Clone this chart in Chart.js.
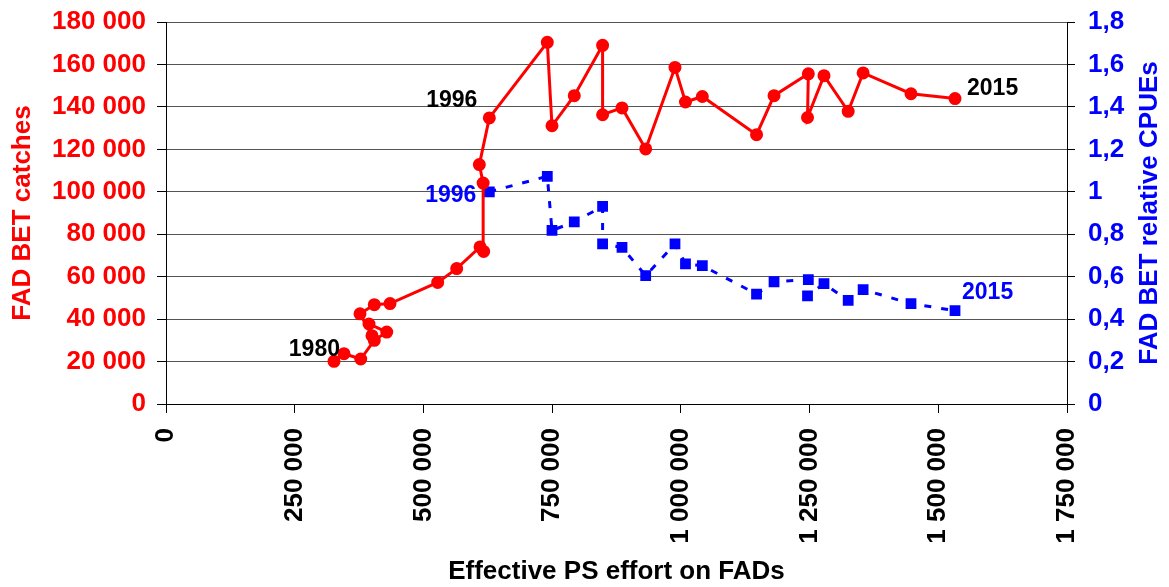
<!DOCTYPE html>
<html>
<head>
<meta charset="utf-8">
<script src="https://cdn.jsdelivr.net/npm/chart.js@4/dist/chart.umd.min.js"></script>
<style>
  html, body { margin: 0; padding: 0; background: #fff; }
  #wrap { width: 1169px; height: 587px; }
</style>
</head>
<body>
<div id="wrap"><canvas id="chart"></canvas></div>
<script>
// effort (x) and FAD catches, 1980-2015
const years = [1980, 1981, 1982, 1983, 1984, 1985, 1986, 1987, 1988, 1989, 1990, 1991,
    1992, 1993, 1994, 1995, 1996, 1997, 1998, 1999, 2000, 2001, 2002, 2003,
    2004, 2005, 2006, 2007, 2008, 2009, 2010, 2011, 2012, 2013, 2014, 2015];
const effort = [326300, 345700, 378200, 404600, 428700, 394300, 400100, 376800, 404600, 435100,
    527700, 564600, 610000, 617000, 616000, 608600, 628000, 740600, 749700, 793000,
    848000, 848000, 885700, 931700, 988600, 1009000, 1041700, 1147000, 1181000, 1247600,
    1246000, 1278000, 1325000, 1354000, 1447000, 1532500];
const catches = [20100, 23700, 21200, 30000, 33900, 37700, 32200, 42500, 46800, 47300,
    57300, 63800, 74000, 71900, 104100, 112800, 134800, 170400, 131100, 145300,
    169000, 136300, 139500, 120200, 158600, 142300, 144900, 126900, 145300, 155600,
    135000, 154700, 137900, 156000, 146200, 143900];
// relative CPUE (1996 = 1), 1996-2015
const cpueYears = [1996, 1997, 1998, 1999, 2000, 2001, 2002, 2003, 2004, 2005,
    2006, 2007, 2008, 2009, 2010, 2011, 2012, 2013, 2014, 2015];
const cpue = [1.0, 1.073, 0.818, 0.858, 0.931, 0.754, 0.738, 0.605, 0.754, 0.66,
    0.652, 0.518, 0.576, 0.586, 0.51, 0.567, 0.488, 0.539, 0.473, 0.44];
const labelledYears = [1980, 1996, 2015];

const RED = "#FF0000";
const BLUE = "#0000FF";
const FONT = "'Liberation Sans', Arial, sans-serif";

const spaced = n => String(Math.round(n)).replace(/\B(?=(\d{3})+(?!\d))/g, " ");
const comma = v => {
    const s = (Math.round(v * 10) / 10).toFixed(1).replace(".", ",");
    return s.endsWith(",0") ? s.slice(0, -2) : s;
};

const catchPoints = years.map((y, i) => ({ x: effort[i], y: catches[i] }));
const cpuePoints = cpueYears.map((y, i) => ({ x: effort[years.indexOf(y)], y: cpue[i] }));

// fixed axis width, no extra room reserved for the end labels
const fixWidth = w => s => {
    s.width = w;
    s.paddingTop = 0;
    s.paddingBottom = 0;
};

// year tags beside the first/last points and right-hand axis title
const yearTags = {
    id: "yearTags",
    afterDatasetsDraw(chart) {
        const ctx = chart.ctx;
        const tags = [
            { ds: 0, year: 1980, color: "#000", align: "right", dx: 6, dy: -12 },
            { ds: 0, year: 1996, color: "#000", align: "right", dx: -12, dy: -17 },
            { ds: 0, year: 2015, color: "#000", align: "left", dx: 12, dy: -10 },
            { ds: 1, year: 1996, color: BLUE, align: "right", dx: -13, dy: 4 },
            { ds: 1, year: 2015, color: BLUE, align: "left", dx: 7, dy: -18 },
        ];
        ctx.save();
        ctx.font = "bold 23px " + FONT;
        ctx.textBaseline = "middle";
        tags.forEach(t => {
            if (!labelledYears.includes(t.year)) return;
            const list = t.ds === 0 ? years : cpueYears;
            const pt = chart.getDatasetMeta(t.ds).data[list.indexOf(t.year)];
            ctx.fillStyle = t.color;
            ctx.textAlign = t.align;
            ctx.fillText(String(t.year), pt.x + t.dx, pt.y + t.dy);
        });
        const area = chart.chartArea;
        ctx.translate(1150, (area.top + area.bottom) / 2);
        ctx.rotate(-Math.PI / 2);
        ctx.font = "bold 26px " + FONT;
        ctx.fillStyle = BLUE;
        ctx.textAlign = "center";
        ctx.fillText("FAD BET relative CPUEs", 0, 0);
        ctx.restore();
    },
};

new Chart(document.getElementById("chart"), {
    type: "line",
    data: {
        datasets: [
            {
                label: "FAD BET catches",
                data: catchPoints,
                yAxisID: "y",
                borderColor: RED,
                backgroundColor: RED,
                borderWidth: 3,
                pointRadius: 5,
                pointStyle: "circle",
                tension: 0,
            },
            {
                label: "FAD BET relative CPUEs",
                data: cpuePoints,
                yAxisID: "y1",
                borderColor: BLUE,
                backgroundColor: BLUE,
                borderWidth: 3,
                borderDash: [7, 10],
                pointRadius: 5.5,
                pointStyle: "rect",
                tension: 0,
            },
        ],
    },
    options: {
        responsive: true,
        maintainAspectRatio: false,
        animation: false,
        layout: { padding: { top: 22, left: 0, right: 0, bottom: 0 } },
        plugins: { legend: { display: false }, tooltip: { enabled: false } },
        scales: {
            x: {
                type: "linear",
                min: 0,
                max: 1750000,
                afterFit: s => { s.height = 183; },
                border: { color: "#000", width: 1 },
                grid: { drawOnChartArea: false, tickLength: 9, color: "#000" },
                ticks: {
                    stepSize: 250000,
                    autoSkip: false,
                    minRotation: 90,
                    maxRotation: 90,
                    padding: 15,
                    color: "#000",
                    font: { family: FONT, size: 26, weight: "bold" },
                    callback: v => spaced(v),
                },
                title: {
                    display: true,
                    text: "Effective PS effort on FADs",
                    color: "#000",
                    padding: { top: 0, bottom: 0 },
                    font: { family: FONT, size: 26, weight: "bold" },
                },
            },
            y: {
                position: "left",
                min: 0,
                max: 180000,
                afterFit: fixWidth(166),
                border: { color: "#000", width: 1 },
                grid: { color: "#555", tickColor: "#000", tickLength: 9 },
                ticks: {
                    stepSize: 20000,
                    padding: 11,
                    color: RED,
                    font: { family: FONT, size: 26, weight: "bold" },
                    callback: v => spaced(v),
                },
                title: {
                    display: true,
                    text: "FAD BET catches",
                    color: RED,
                    padding: { top: 7, bottom: 0 },
                    font: { family: FONT, size: 26, weight: "bold" },
                },
            },
            y1: {
                position: "right",
                min: 0,
                max: 1.8,
                afterFit: fixWidth(102),
                border: { color: "#000", width: 1 },
                grid: { drawOnChartArea: false, tickColor: "#000", tickLength: 8 },
                ticks: {
                    stepSize: 0.2,
                    padding: 13,
                    color: BLUE,
                    font: { family: FONT, size: 26, weight: "bold" },
                    callback: v => comma(v),
                },
            },
        },
    },
    plugins: [yearTags],
});
</script>
</body>
</html>
